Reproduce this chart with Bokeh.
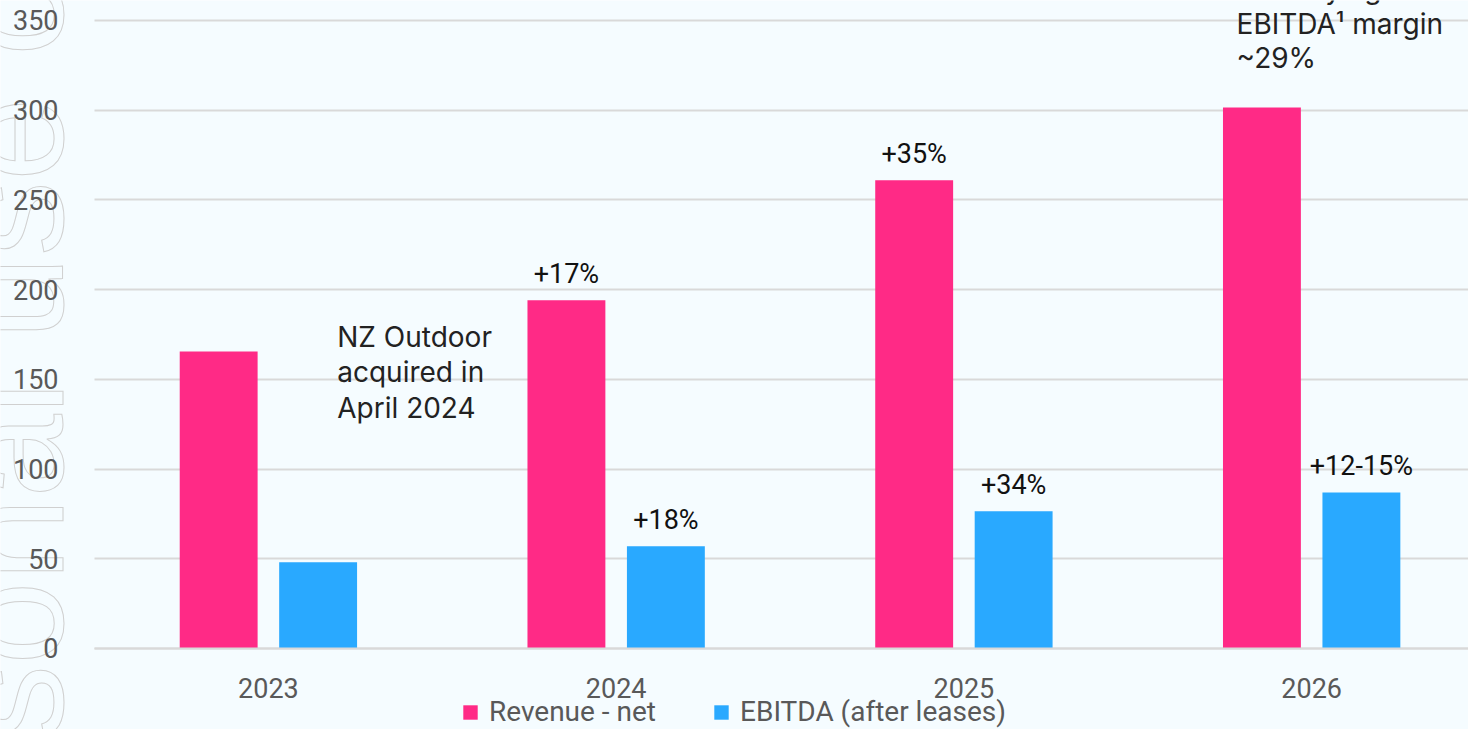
from bokeh.plotting import figure
from bokeh.models import ColumnDataSource, Legend, LegendItem, FixedTicker, Label
from bokeh.core.properties import value
from bokeh.embed import file_html
from bokeh.resources import INLINE

# ---- data ----
years = ["2023", "2024", "2025", "2026"]
revenue = [165.5, 194, 261, 301.5]
ebitda = [48, 57, 76.5, 87]
revenue_growth = ["", "+17%", "+35%", ""]
ebitda_growth = ["", "+18%", "+34%", "+12-15%"]
y_ticks = [0, 50, 100, 150, 200, 250, 300, 350]
note_acq = ["NZ Outdoor", "acquired in", "April 2024"]
note_margin = ["Underlying", "EBITDA\u00b9 margin", "~29%"]
watermark = "personal use only"

# ---- styling ----
PINK = "#FF2A86"
BLUE = "#29A9FF"
BG = "#F5FCFF"
GRID = "#D9D9D9"
GREY = "#595959"
FONT = "Roboto"
NOTE_FONT = "Inter"
PX = 1.7945          # pixels per y unit
UX = 347.7           # pixels per category
Y_TOP = 361.1
Y_BOT = -81 / PX
X_LEFT = -0.5 - 94 / UX
X_RIGHT = 3.451

idx = list(range(len(years)))
off = 0.143
bw = 0.224
src = ColumnDataSource(dict(
    rx=[i - off for i in idx], ex=[i + off for i in idx],
    rev=revenue, ebi=ebitda, rg=revenue_growth, eg=ebitda_growth,
))

p = figure(width=1468, height=729, x_range=(X_LEFT, X_RIGHT), y_range=(Y_BOT, Y_TOP),
           output_backend="svg", toolbar_location=None,
           min_border_left=0, min_border_right=0, min_border_top=0, min_border_bottom=0)
p.background_fill_color = BG
p.border_fill_color = BG
p.outline_line_color = None


def px_to_y(page_y):
    return Y_TOP - page_y / PX


# faint outlined watermark on the left edge
p.add_layout(Label(x=-0.5 + (10 - 94) / UX, y=px_to_y(956), text=watermark,
                   angle=90, angle_units="deg", text_font="Liberation Sans",
                   text_font_size="150px", text_color=BG, text_outline_color="#D0D0D0",
                   text_baseline="alphabetic", text_align="left", level="underlay"))

r1 = p.vbar(x="rx", top="rev", width=bw, source=src, color=PINK, line_color=None)
r2 = p.vbar(x="ex", top="ebi", width=bw, source=src, color=BLUE, line_color=None)

lbl_font = dict(text_font=value(FONT), text_font_size="27px", text_color="#111111",
                text_align="center", text_baseline="alphabetic", y_offset=-26)
p.text(x="rx", y="rev", text="rg", source=src, **lbl_font)
p.text(x="ex", y="ebi", text="eg", source=src, **lbl_font)

for k, t in enumerate(note_acq):
    p.add_layout(Label(x=0.198, y=px_to_y(336 + 35.5 * k), text=t,
                       text_font=NOTE_FONT, text_font_size="28px", text_color="#222222",
                       text_baseline="alphabetic"))
for k, t in enumerate(note_margin):
    p.add_layout(Label(x=2.784, y=px_to_y(-11 + 34 * k), text=t,
                       text_font=NOTE_FONT, text_font_size="28px", text_color="#222222",
                       text_baseline="alphabetic"))

# axes (drawn at fixed positions so they take no panel space)
p.xaxis.fixed_location = 0
p.xaxis.ticker = FixedTicker(ticks=idx)
p.xaxis.major_label_overrides = {i: y for i, y in zip(idx, years)}
p.xaxis.bounds = (-0.5, X_RIGHT)
p.xaxis.axis_line_color = GRID
p.xaxis.axis_line_width = 2
p.xaxis.major_tick_line_color = None
p.xaxis.minor_tick_line_color = None
p.xaxis.major_label_standoff = 24
p.xaxis.major_label_text_font = FONT
p.xaxis.major_label_text_font_size = "27px"
p.xaxis.major_label_text_color = GREY

p.yaxis.fixed_location = -0.5
p.yaxis.ticker = FixedTicker(ticks=y_ticks)
p.yaxis.axis_line_color = None
p.yaxis.major_tick_line_color = None
p.yaxis.minor_tick_line_color = None
p.yaxis.major_label_standoff = 30
p.yaxis.major_label_text_font = FONT
p.yaxis.major_label_text_font_size = "27px"
p.yaxis.major_label_text_color = GREY

p.xgrid.grid_line_color = None
p.ygrid.grid_line_color = GRID
p.ygrid.grid_line_width = 2
try:
    p.ygrid.cross_bounds = (-0.5, X_RIGHT)
except Exception:
    p.ygrid.grid_line_color = None
    p.segment(x0=[-0.5] * len(y_ticks), x1=[X_RIGHT] * len(y_ticks), y0=y_ticks, y1=y_ticks,
              line_color=GRID, line_width=2, level="underlay")

legend = Legend(items=[LegendItem(label="Revenue - net", renderers=[r1]),
                       LegendItem(label="EBITDA (after leases)", renderers=[r2])],
                orientation="horizontal", location=(461, 1),
                background_fill_alpha=0, border_line_color=None,
                padding=0, margin=0, spacing=56, label_standoff=10,
                glyph_width=18, glyph_height=18,
                label_text_font=FONT, label_text_font_size="28px", label_text_color=GREY)
p.add_layout(legend, "center")

open("out.html", "w").write(file_html(p, INLINE))
